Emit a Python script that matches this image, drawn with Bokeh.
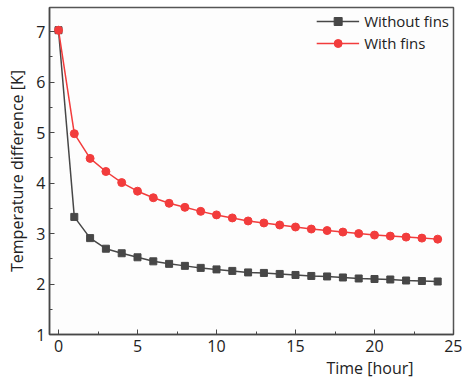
from bokeh.plotting import figure
from bokeh.models import Range1d, Legend, LegendItem, FixedTicker, Title
from bokeh.embed import file_html
from bokeh.resources import INLINE

time_h = list(range(25))
without_fins = [7.03, 3.33, 2.91, 2.70, 2.61, 2.53, 2.45, 2.40, 2.36, 2.32, 2.29, 2.26,
                2.23, 2.22, 2.20, 2.18, 2.16, 2.15, 2.13, 2.11, 2.10, 2.09, 2.07, 2.06, 2.05]
with_fins = [7.03, 4.98, 4.49, 4.23, 4.01, 3.84, 3.71, 3.60, 3.52, 3.44, 3.37, 3.31,
             3.25, 3.21, 3.17, 3.13, 3.09, 3.06, 3.03, 3.00, 2.97, 2.95, 2.93, 2.91, 2.89]
x_ticks = [0, 5, 10, 15, 20, 25]
y_ticks = [1, 2, 3, 4, 5, 6, 7]

FONT = "Open Sans"
DARK = "#474747"
RED = "#f23c3c"

p = figure(width=462, height=378, output_backend="svg", toolbar_location=None,
           x_range=Range1d(-0.57, 25.0), y_range=Range1d(1.0, 7.48),
           min_border_left=49, min_border_right=9, min_border_top=7, min_border_bottom=5)

p.background_fill_color = "#fdfdfd"
p.border_fill_color = "white"
p.outline_line_color = "#555555"
p.outline_line_width = 1.5
p.grid.visible = False

for ax in (p.xaxis[0], p.yaxis[0]):
    ax.axis_line_color = DARK
    ax.axis_line_width = 1.5
    ax.major_tick_in = 5
    ax.major_tick_out = 0
    ax.minor_tick_in = 3
    ax.minor_tick_out = 0
    ax.major_tick_line_color = DARK
    ax.minor_tick_line_color = DARK
    ax.major_label_text_font = FONT
    ax.major_label_text_font_size = "16px"
    ax.major_label_text_color = "#222222"
p.xaxis.major_label_standoff = 5
p.yaxis.major_label_standoff = 4

p.xaxis.ticker = FixedTicker(ticks=x_ticks, minor_ticks=[v + 2.5 for v in x_ticks[:-1]])
p.yaxis.ticker = FixedTicker(ticks=y_ticks, minor_ticks=[v + 0.5 for v in y_ticks[:-1]] + [7.5])

p.yaxis.axis_label = "Temperature difference [K]"
p.yaxis.axis_label_text_font = FONT
p.yaxis.axis_label_text_font_size = "16px"
p.yaxis.axis_label_text_font_style = "normal"
p.yaxis.axis_label_text_color = "#222222"
p.yaxis.axis_label_standoff = 5

r1 = p.line(time_h, without_fins, line_color=DARK, line_width=1.5)
s1 = p.scatter(time_h, without_fins, marker="square", size=7, fill_color=DARK, line_color=DARK)
r2 = p.line(time_h, with_fins, line_color=RED, line_width=1.5)
s2 = p.scatter(time_h, with_fins, marker="circle", size=8, fill_color=RED, line_color=RED)

legend = Legend(items=[LegendItem(label="Without fins", renderers=[r1, s1]),
                       LegendItem(label="With fins", renderers=[r2, s2])],
                location="top_right")
legend.border_line_color = None
legend.background_fill_alpha = 0
legend.label_text_font = FONT
legend.label_text_font_size = "15px"
legend.label_text_color = "#222222"
legend.glyph_width = 43
legend.glyph_height = 20
legend.label_standoff = 5
legend.spacing = 2
legend.margin = 4
legend.padding = 3
p.add_layout(legend)

xt = Title(text="Time [hour]", align="right", offset=40, text_font=FONT, text_font_size="16px",
           text_font_style="normal", text_color="#222222", standoff=0)
p.add_layout(xt, "below")

open("out.html", "w").write(file_html(p, INLINE))
